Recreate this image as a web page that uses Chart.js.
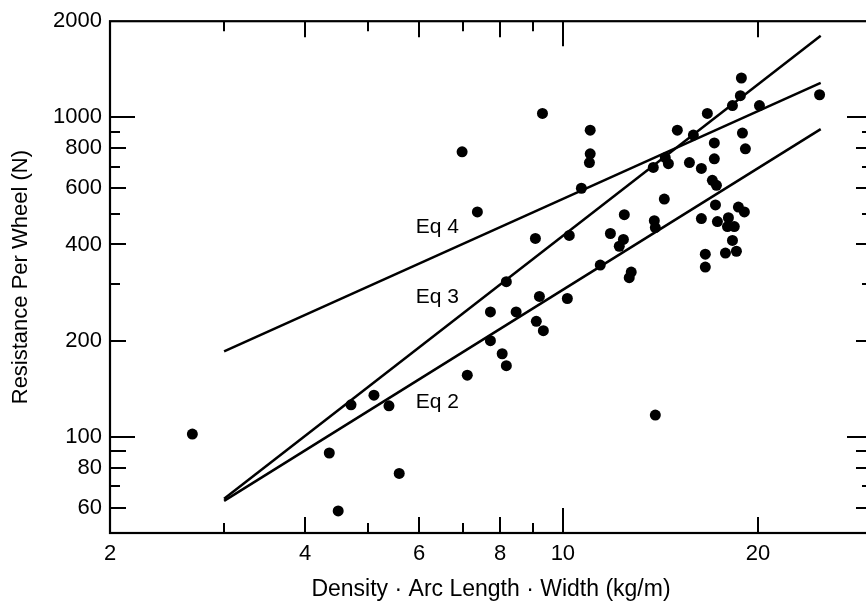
<!DOCTYPE html>
<html>
<head>
<meta charset="utf-8">
<script src="https://cdn.jsdelivr.net/npm/chart.js@4"></script>
<style>
  html, body { margin: 0; padding: 0; overflow: hidden; background: #fff; }
  #wrap { width: 880px; height: 606px; }
</style>
</head>
<body>
<div id="wrap"><canvas id="chart" width="880" height="606"></canvas></div>
<script>
// measured points (kg/m, N)
const pointX = [2.68, 4.36, 4.50, 4.71, 5.11, 5.39, 5.59, 7.12, 7.73, 8.06,
    8.18, 7.73, 8.47, 9.10, 9.33, 9.30, 6.99, 7.38, 9.07, 10.23,
    8.18, 9.20, 10.16, 11.02, 11.02, 10.99, 10.68, 11.42, 12.44, 11.84,
    12.40, 12.22, 12.75, 12.66, 13.84, 13.89, 14.34, 13.79, 14.39, 14.55,
    15.02, 15.90, 16.71, 15.68, 16.36, 17.13, 17.13, 17.01, 17.26, 18.86,
    18.79, 18.27, 20.11, 18.93, 19.13, 24.9, 17.20, 18.66, 19.06, 16.36,
    17.32, 18.01, 17.95, 18.39, 18.27, 16.59, 17.82, 18.53, 16.59, 13.89]
const pointY = [102, 89, 58.6, 126, 135, 125, 76.8, 156, 200, 182,
    167, 246, 246, 230, 215, 1029, 780, 506, 418, 427,
    306, 275, 271, 912, 769, 722, 600, 345, 496, 433,
    415, 395, 328, 315, 475, 452, 555, 697, 748, 716,
    912, 880, 1029, 722, 692, 832, 742, 635, 613, 1328,
    1169, 1089, 1089, 893, 797, 1177, 532, 524, 506, 482,
    472, 485, 455, 455, 412, 373, 376, 381, 340, 117]

// fitted equations, end points
const eqX = [3, 25]
const eq2Y = [63, 919]
const eq3Y = [64, 1801]
const eq4Y = [185, 1282]
const eqNames = ['Eq 4', 'Eq 3', 'Eq 2']
const eqLabelX = [6.4, 6.4, 6.4]
const eqLabelY = [454, 273, 128]

// axis ticks
const xTickLabels = [2, 4, 6, 8, 10, 20]
const xMidTicks = [4, 6, 8, 20]
const xDecadeTicks = [10]
const xMinorTicks = [3, 5, 7, 9]
const yTickLabels = [60, 80, 100, 200, 400, 600, 800, 1000, 2000]
const yMidTicks = [60, 80, 90, 200, 400, 600, 800]
const yDecadeTicks = [100, 1000]
const yMinorTicks = [70, 300, 500, 700, 900]

const FONT = '"Liberation Sans", Arial, Helvetica, sans-serif'

function toXY(xs, ys) {
    return xs.map((x, i) => ({x: x, y: ys[i]}))
}
function lineSet(ys) {
    return {
        data: toXY(eqX, ys),
        showLine: true,
        borderColor: '#000',
        borderWidth: 2.5,
        pointRadius: 0,
        fill: false
    }
}

const data = {
    datasets: [
        lineSet(eq4Y),
        lineSet(eq3Y),
        lineSet(eq2Y),
        {
            data: toXY(pointX, pointY),
            backgroundColor: '#000',
            borderWidth: 0,
            pointRadius: 5.5
        }
    ]
}

// box round the plot, inward tick marks on all four sides, Eq labels
const framePlugin = {
    id: 'frame',
    afterDatasetsDraw(chart) {
        const ctx = chart.ctx
        const a = chart.chartArea
        const xs = chart.scales.x
        const ys = chart.scales.y
        ctx.save()
        ctx.strokeStyle = '#000'
        ctx.lineWidth = 2.2
        ctx.strokeRect(a.left, a.top, a.right - a.left, a.bottom - a.top)
        ctx.lineWidth = 2
        function xTicks(list, len) {
            list.forEach(v => {
                const px = Math.round(xs.getPixelForValue(v))
                ctx.beginPath()
                ctx.moveTo(px, a.bottom); ctx.lineTo(px, a.bottom - len)
                ctx.moveTo(px, a.top); ctx.lineTo(px, a.top + len)
                ctx.stroke()
            })
        }
        function yTicks(list, len) {
            list.forEach(v => {
                const py = Math.round(ys.getPixelForValue(v))
                ctx.beginPath()
                ctx.moveTo(a.left, py); ctx.lineTo(a.left + len, py)
                ctx.moveTo(a.right, py); ctx.lineTo(a.right - len, py)
                ctx.stroke()
            })
        }
        xTicks(xMinorTicks, 10)
        xTicks(xMidTicks, 16)
        xTicks(xDecadeTicks, 25)
        yTicks(yMinorTicks, 10)
        yTicks(yMidTicks, 16)
        yTicks(yDecadeTicks, 25)

        ctx.fillStyle = '#000'
        ctx.font = '21px ' + FONT
        ctx.textAlign = 'center'
        ctx.textBaseline = 'middle'
        eqNames.forEach((t, i) => {
            ctx.fillText(t, xs.getPixelForValue(eqLabelX[i]), ys.getPixelForValue(eqLabelY[i]))
        })
        ctx.restore()
    }
}

const config = {
    type: 'scatter',
    data,
    options: {
        responsive: false,
        animation: false,
        events: [],
        layout: {
            padding: {top: 14, right: 8, bottom: 0, left: 0}
        },
        plugins: {
            legend: {display: false},
            tooltip: {enabled: false}
        },
        scales: {
            x: {
                type: 'logarithmic',
                position: 'bottom',
                min: 2,
                max: 30,
                bounds: 'data',
                grid: {display: false, drawTicks: false},
                border: {display: false},
                afterBuildTicks: s => { s.ticks = xTickLabels.map(v => ({value: v})) },
                afterFit: s => { s.height = 73 },
                ticks: {
                    color: '#000',
                    font: {family: FONT, size: 22},
                    padding: 8,
                    autoSkip: false,
                    maxRotation: 0,
                    callback: v => String(v)
                },
                title: {
                    display: true,
                    text: 'Density · Arc Length · Width (kg/m)',
                    color: '#000',
                    font: {family: FONT, size: 23},
                    padding: {top: 0, bottom: 3}
                }
            },
            y: {
                type: 'logarithmic',
                position: 'left',
                min: 50,
                max: 2000,
                bounds: 'data',
                grid: {display: false, drawTicks: false},
                border: {display: false},
                afterBuildTicks: s => { s.ticks = yTickLabels.map(v => ({value: v})) },
                afterFit: s => { s.width = 110 },
                ticks: {
                    color: '#000',
                    font: {family: FONT, size: 22},
                    padding: 8,
                    autoSkip: false,
                    callback: v => String(v)
                },
                title: {
                    display: true,
                    text: 'Resistance Per Wheel (N)',
                    color: '#000',
                    font: {family: FONT, size: 22},
                    padding: {top: 8, bottom: 0}
                }
            }
        }
    },
    plugins: [framePlugin]
}

var chart = document.getElementById('chart')
var myChart = new Chart(chart, config)
</script>
</body>
</html>
